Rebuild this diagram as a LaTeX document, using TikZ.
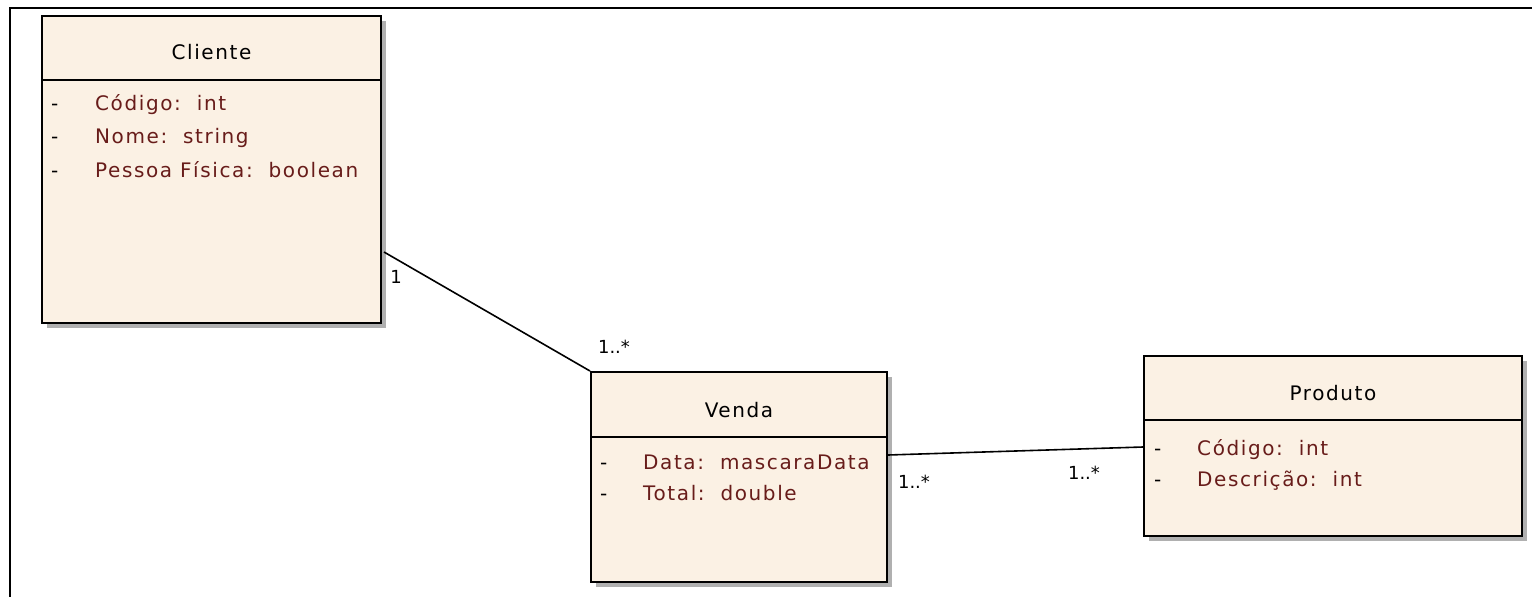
\documentclass[tikz,border=0pt]{standalone}
\usepackage{fontspec}
\setmainfont{DejaVu Sans}[LetterSpace=8]
\newfontfamily\multfont{DejaVu Sans}
\usetikzlibrary{calc,shadows}
\definecolor{classfill}{RGB}{251,241,228}
\definecolor{attrcolor}{RGB}{104,28,26}
\definecolor{shadowgray}{RGB}{176,176,176}
\tikzset{
  classbox/.style={draw=black, line width=2pt, fill=classfill, anchor=north west,
    inner sep=0pt, rectangle,
    drop shadow={shadow xshift=5pt, shadow yshift=-5pt, fill=shadowgray, opacity=1}},
  sepline/.style={line width=2pt},
  title/.style={font=\fontsize{20}{23}\selectfont, text=black, anchor=center},
  attr/.style={font=\fontsize{20}{23}\selectfont, text=attrcolor, anchor=base west, inner sep=0pt},
  vis/.style={font=\fontsize{20}{23}\selectfont, text=black, anchor=base west, inner sep=0pt},
  mult/.style={font=\multfont\fontsize{18}{21}\selectfont, text=black, inner sep=0pt},
  assoc/.style={line width=1.6pt, black},
  frameline/.style={line width=2pt, black}
}
\begin{document}
\begin{tikzpicture}[x=1pt, y=-1pt]
\useasboundingbox (0,0) rectangle (1532,597);
\fill[white] (0,0) rectangle (1532,597);
% outer frame (top and left edges)
\draw[frameline] (10,597) -- (10,8) -- (1532,8);

% ---- Cliente ----
\node[classbox, minimum width=339pt, minimum height=307pt] (cliente) at (41,15) {};
\draw[sepline] ($(cliente.north west)+(0,65)$) -- ($(cliente.north east)+(0,65)$);
\node[title] (clienteT) at ($(cliente.north)+(0,37)$) {Cliente};
\node[vis] (c1v) at (51,110) {-};
\node[attr] (c1) at (95,110) {Código:\ \ int};
\node[vis] (c2v) at (51,143) {-};
\node[attr] (c2) at (95,143) {Nome:\ \ string};
\node[vis] (c3v) at (51,177) {-};
\node[attr] (c3) at (95,177) {Pessoa Física:\ \ boolean};

% ---- Venda ----
\node[classbox, minimum width=296pt, minimum height=210pt] (venda) at (590,371) {};
\draw[sepline] ($(venda.north west)+(0,66)$) -- ($(venda.north east)+(0,66)$);
\node[title] (vendaT) at ($(venda.north)+(0,39)$) {Venda};
\node[vis] (v1v) at (600,469) {-};
\node[attr] (v1) at (643,469) {Data:\ \ mascaraData};
\node[vis] (v2v) at (600,500) {-};
\node[attr] (v2) at (643,500) {Total:\ \ double};

% ---- Produto ----
\node[classbox, minimum width=378pt, minimum height=180pt] (produto) at (1143,355) {};
\draw[sepline] ($(produto.north west)+(0,65)$) -- ($(produto.north east)+(0,65)$);
\node[title] (produtoT) at ($(produto.north)+(0,38)$) {Produto};
\node[vis] (p1v) at (1154,455) {-};
\node[attr] (p1) at (1197,455) {Código:\ \ int};
\node[vis] (p2v) at (1154,486) {-};
\node[attr] (p2) at (1197,486) {Descrição:\ \ int};

% ---- associations ----
\draw[assoc] ($(cliente.north east)+(2,237)$) -- (venda.north west);
\draw[assoc] ($(venda.north east)+(0,84)$) -- ($(produto.north west)+(0,92)$);

% multiplicities
\node[mult] (m1) at (396,277) {1};
\node[mult] (m2) at (614,347) {1..*};
\node[mult] (m3) at (914,482) {1..*};
\node[mult] (m4) at (1084,473) {1..*};
\end{tikzpicture}
\end{document}
